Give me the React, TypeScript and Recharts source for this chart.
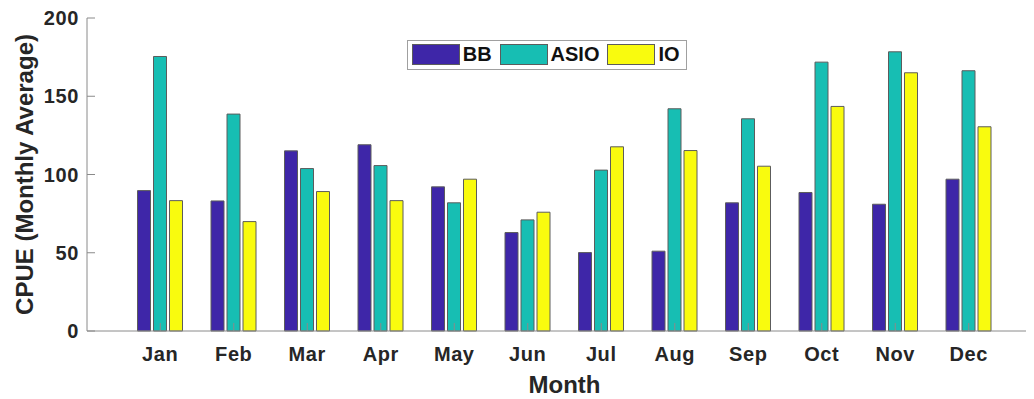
import React from 'react';
import { BarChart, Bar, XAxis, YAxis, Legend } from 'recharts';

const months = ['Jan', 'Feb', 'Mar', 'Apr', 'May', 'Jun', 'Jul', 'Aug', 'Sep', 'Oct', 'Nov', 'Dec'];
const seriesNames = ['BB', 'ASIO', 'IO'];
const bbValues = [89.7, 83.1, 115.1, 119.0, 92.1, 62.9, 50.1, 51.0, 81.9, 88.5, 81.0, 97.0];
const asioValues = [175.4, 138.6, 103.8, 105.7, 81.9, 71.0, 102.8, 142.0, 135.6, 171.8, 178.4, 166.3];
const ioValues = [83.3, 69.9, 89.1, 83.3, 97.0, 75.9, 117.7, 115.3, 105.3, 143.5, 165.0, 130.5];
const yTicks = [0, 50, 100, 150, 200];

const FONT = '"Liberation Sans", Arial, Helvetica, sans-serif';
const AXIS = '#8a8a8a';
const TEXT = '#262626';
const EDGE = '#5c5c5c';

const rows = months.map((month, i) => ({
  month,
  BB: bbValues[i],
  ASIO: asioValues[i],
  IO: ioValues[i],
}));

const tickStyle = { fill: TEXT, fontSize: 20, fontWeight: 700, fontFamily: FONT, letterSpacing: 0.6 };

const renderLegend = (props: any) => {
  // keep the plotting order, recharts sorts the entries by name
  const payload = [...(props.payload || [])].sort(
    (a: any, b: any) => seriesNames.indexOf(a.value) - seriesNames.indexOf(b.value)
  );
  return (
    <div
      style={{
        display: 'flex',
        alignItems: 'center',
        height: 30,
        boxSizing: 'border-box',
        border: '1px solid #a0a0a0',
        background: '#fff',
        paddingLeft: 4,
        fontFamily: FONT,
        fontWeight: 700,
        fontSize: 20,
        color: '#111',
      }}
    >
      {payload.map((entry: any, index: number) => (
        <div key={index} style={{ display: 'flex', alignItems: 'center', marginRight: 8 }}>
          <span
            style={{
              display: 'inline-block',
              width: 46,
              height: 19,
              background: entry.color,
              border: `1px solid ${EDGE}`,
              marginRight: 3,
            }}
          />
          <span>{entry.value}</span>
        </div>
      ))}
    </div>
  );
};

export default function App() {
  return (
    <div style={{ width: 1026, height: 391, overflow: 'hidden', position: 'relative' }}>
      <BarChart
        width={1034}
        height={391}
        data={rows}
        margin={{ top: 10, right: 0, left: 0, bottom: 0 }}
        barSize={13}
        barGap={3}
      >
        <XAxis
          dataKey="month"
          height={68}
          padding={{ left: 36.5, right: 36.5 }}
          stroke={AXIS}
          tickSize={-8}
          tickMargin={24}
          tick={tickStyle}
          label={{
            value: 'Month',
            position: 'insideBottom',
            offset: 6,
            fill: TEXT,
            fontSize: 24,
            fontWeight: 700,
            fontFamily: FONT,
          }}
        />
        <XAxis
          xAxisId="top"
          dataKey="month"
          orientation="top"
          height={0}
          padding={{ left: 36.5, right: 36.5 }}
          stroke={AXIS}
          tickSize={-8}
          tick={false}
        />
        <YAxis
          width={79}
          domain={[0, 200]}
          ticks={yTicks}
          interval={0}
          stroke={AXIS}
          tickSize={-8}
          tickMargin={16}
          tick={tickStyle}
          label={{
            value: 'CPUE (Monthly Average)',
            angle: -90,
            position: 'center',
            dx: -23,
            fill: TEXT,
            fontSize: 24,
            fontWeight: 700,
            fontFamily: FONT,
          }}
        />
        <YAxis
          yAxisId="right"
          orientation="right"
          width={0}
          domain={[0, 200]}
          ticks={yTicks}
          stroke={AXIS}
          tickSize={-9}
          tick={false}
        />
        <Legend
          layout="horizontal"
          align="center"
          verticalAlign="middle"
          content={renderLegend}
          wrapperStyle={{ left: 398.7, top: 31.5, width: 280, height: 32 }}
        />
        <Bar dataKey="BB" name="BB" fill="#3e26a8" stroke={EDGE} strokeWidth={1} isAnimationActive={false} />
        <Bar dataKey="ASIO" name="ASIO" fill="#17beb3" stroke={EDGE} strokeWidth={1} isAnimationActive={false} />
        <Bar dataKey="IO" name="IO" fill="#f9fb0e" stroke={EDGE} strokeWidth={1} isAnimationActive={false} />
      </BarChart>
    </div>
  );
}
